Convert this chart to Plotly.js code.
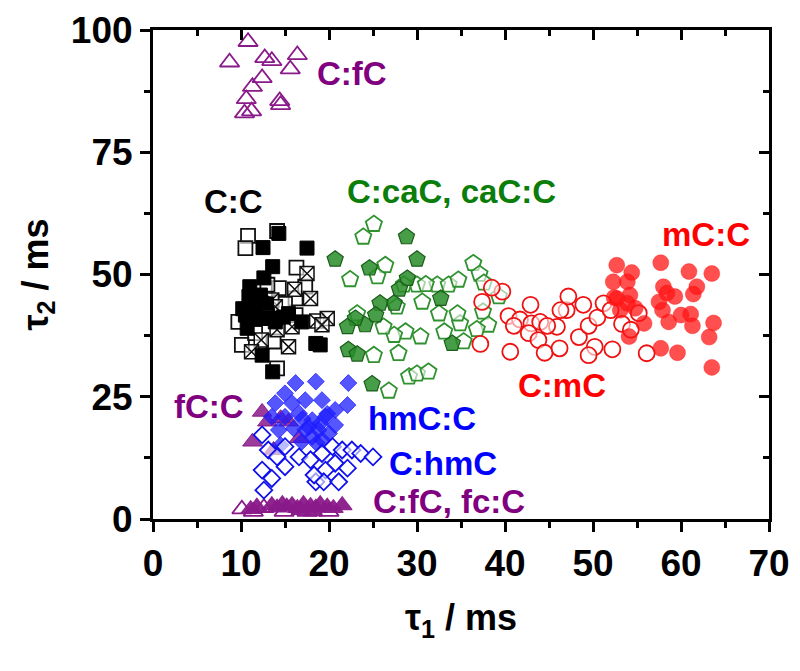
<!DOCTYPE html>
<html>
<head>
<meta charset="utf-8">
<script src="https://cdn.plot.ly/plotly-3.0.1.min.js"></script>
<style>html,body{margin:0;padding:0;background:#fff;}#chart{width:800px;height:671px;}</style>
</head>
<body>
<div id="chart"></div>
<script>
// ---- data (tau1, tau2 in ms) ----
const cfcTopX = [10.8, 8.7, 12.7, 13.5, 16.4, 15.6, 12.4, 11.3, 10.6, 11.2, 10.4, 14.5, 14.4];
const cfcTopY = [97.6, 93.4, 94.3, 93.7, 94.9, 92.0, 90.2, 88.4, 85.9, 83.4, 83.0, 84.7, 85.5];

const ccFilledX = [14.3, 12.5, 17.5, 13.6, 12.6, 10.9, 12.2, 10.5, 11.8, 13.3, 10.7, 15.4, 16.9, 18.5, 19.0, 12.4, 13.6, 13.9, 11.5, 12.9, 10.2, 14.8, 11.0];
const ccFilledY = [58.4, 55.5, 55.4, 51.6, 49.3, 45.5, 45.8, 41.7, 41.0, 41.0, 39.0, 42.0, 40.3, 35.9, 35.6, 33.5, 30.1, 40.3, 43.5, 44.0, 43.0, 41.3, 47.5];
const ccCrossX = [17.5, 16.1, 17.9, 13.5, 15.8, 18.6, 19.8, 19.2, 12.3, 11.2, 15.4, 14.1, 13.9, 13.0];
const ccCrossY = [50.2, 47.0, 45.1, 44.8, 39.3, 40.5, 41.0, 39.7, 36.6, 34.2, 35.2, 38.7, 43.4, 41.5];
const ccOpenX = [10.8, 10.5, 16.3, 14.1, 16.2, 14.3, 13.7, 10.1, 14.1, 9.7, 17.3, 16.2, 13.0, 11.6, 15.0];
const ccOpenY = [57.9, 55.4, 51.4, 58.9, 45.1, 47.2, 36.3, 35.6, 30.8, 40.3, 47.5, 41.7, 47.9, 38.0, 44.0];

const cacFilledX = [28.8, 20.7, 24.6, 30.0, 28.9, 28.0, 27.4, 25.8, 25.3, 24.1, 23.0, 22.1, 32.7, 34.0, 22.2, 23.2, 24.9];
const cacFilledY = [57.7, 53.1, 51.3, 53.1, 49.2, 47.0, 44.1, 44.1, 41.7, 39.7, 41.0, 39.3, 45.1, 35.9, 34.6, 33.7, 27.6];
const cacOpenX = [25.1, 23.9, 22.4, 26.4, 25.5, 30.6, 27.7, 30.0, 32.3, 33.6, 34.7, 36.4, 37.1, 37.6, 39.3, 37.5, 38.1, 36.8, 34.9, 32.5, 33.1, 34.6, 35.3, 30.4, 28.7, 27.4, 26.2, 25.1, 27.9, 23.2, 29.1, 30.0, 31.3, 26.8, 31.0, 28.5];
const cacOpenY = [60.3, 57.7, 49.0, 51.9, 49.6, 44.4, 43.4, 47.9, 47.9, 47.9, 48.9, 52.3, 50.1, 48.3, 45.5, 42.4, 39.7, 38.8, 40.0, 42.0, 38.3, 42.0, 36.3, 37.3, 38.3, 37.6, 39.3, 33.5, 33.9, 42.0, 29.1, 29.7, 30.1, 26.2, 48.0, 47.9];

const cmcOpenX = [39.7, 37.2, 40.4, 41.7, 42.9, 43.0, 41.0, 42.7, 43.8, 40.6, 44.5, 44.0, 45.9, 46.2, 47.0, 47.2, 48.4, 48.9, 49.5, 50.2, 50.5, 51.2, 52.2, 53.3, 55.2, 56.1, 52.0, 46.3, 44.8, 49.5, 54.3, 38.5, 37.4];
const cmcOpenY = [46.5, 35.8, 41.5, 40.8, 43.8, 40.0, 39.5, 38.0, 36.6, 34.2, 34.0, 40.3, 39.3, 34.9, 42.7, 45.5, 37.2, 43.8, 39.5, 35.2, 41.2, 44.1, 34.7, 39.9, 42.1, 33.9, 42.7, 42.7, 39.5, 33.5, 38.7, 47.3, 44.4];
const mccFilledX = [52.7, 54.4, 52.3, 53.9, 52.7, 54.2, 53.9, 53.1, 55.8, 54.1, 57.7, 60.9, 63.5, 58.0, 58.4, 61.8, 61.4, 59.3, 57.5, 57.9, 60.0, 61.1, 58.6, 61.3, 63.7, 63.2, 57.7, 59.6, 63.5, 52.4, 54.8];
const mccFilledY = [51.9, 50.4, 48.5, 48.5, 45.1, 45.8, 44.1, 42.7, 40.0, 37.3, 52.4, 50.6, 50.2, 47.5, 46.2, 47.5, 46.0, 45.5, 44.4, 42.7, 41.7, 41.9, 40.3, 39.5, 40.1, 37.2, 34.9, 34.0, 31.0, 45.3, 43.1];

const hmccFilledX = [16.2, 18.5, 22.2, 15.0, 13.9, 15.8, 17.3, 19.2, 22.1, 20.7, 13.5, 15.0, 16.6, 18.1, 19.6, 20.7, 18.8, 17.3, 16.0, 14.3, 18.1, 19.2, 16.9, 14.5, 20.0, 17.7, 18.6, 19.0, 17.0, 19.8];
const hmccFilledY = [27.8, 28.1, 27.8, 25.7, 23.7, 23.7, 24.3, 24.3, 23.3, 22.3, 20.9, 20.9, 21.6, 20.2, 20.9, 19.2, 18.2, 18.2, 18.5, 18.2, 16.8, 16.2, 15.8, 15.1, 17.5, 18.8, 15.5, 19.5, 20.5, 21.5];
const chmcOpenX = [12.4, 13.1, 14.1, 12.4, 15.0, 16.6, 17.9, 19.2, 20.4, 21.5, 22.6, 23.6, 20.7, 22.1, 19.6, 18.5, 19.4, 21.1, 13.5, 12.6, 15.0, 25.0, 18.3];
const chmcOpenY = [17.2, 14.1, 12.7, 10.0, 10.7, 12.7, 12.1, 13.4, 14.8, 14.1, 14.1, 13.4, 11.4, 10.4, 10.0, 7.6, 7.6, 7.6, 8.3, 5.9, 14.8, 12.7, 9.0];

const fccFilledX = [12.4, 14.5, 15.4, 11.3, 13.7, 16.6, 13.0];
const fccFilledY = [21.9, 20.6, 19.9, 15.8, 14.1, 16.5, 19.9];

const lowFilledX = [11.1, 11.8, 13.5, 14.1, 14.7, 15.2, 15.8, 16.4, 17.1, 17.9, 18.5, 19.0, 19.8, 20.5, 21.5, 16.8, 18.2];
const lowFilledY = [2.0, 2.5, 2.8, 2.3, 3.0, 2.5, 2.8, 2.2, 3.0, 2.6, 2.3, 3.0, 2.5, 2.2, 2.8, 1.8, 1.5];
const lowOpenX = [10.1, 12.6, 11.4, 14.9, 17.5, 20.0];
const lowOpenY = [2.0, 2.3, 1.5, 1.5, 1.5, 1.5];

const labelText = ["C:fC", "C:C", "C:caC, caC:C", "mC:C", "C:mC", "fC:C", "hmC:C", "C:hmC", "C:fC, fc:C"];
const labelX = [22.6, 9.2, 33.9, 62.8, 46.5, 6.4, 30.6, 32.9, 33.6];
const labelY = [91.2, 64.9, 66.9, 58.1, 27.4, 23.0, 20.6, 11.4, 3.5];
const labelColor = ["#800080", "#000000", "#0a7d0a", "#ff0000", "#ff0000", "#800080", "#0000ff", "#0000ff", "#800080"];

const xTicks = [0, 10, 20, 30, 40, 50, 60, 70];
const yTicks = [0, 25, 50, 75, 100];

// ---- styles ----
const PURPLE = "#8a1a8a";
const FONT = "Liberation Sans, Arial, sans-serif";

function sc(x, y, symbol, size, color, lineColor, lineWidth, opacity) {
  return {
    type: "scatter", mode: "markers", x: x, y: y, showlegend: false, hoverinfo: "skip",
    marker: { symbol: symbol, size: size, color: color, opacity: opacity === undefined ? 1 : opacity,
              line: { color: lineColor, width: lineWidth } }
  };
}

const traces = [
  sc(lowFilledX, lowFilledY, "triangle-up", 17, PURPLE, PURPLE, 1.2, 0.95),
  sc(lowOpenX, lowOpenY, "triangle-up-open", 17, PURPLE, PURPLE, 1.8),
  sc(fccFilledX, fccFilledY, "triangle-up", 17, "rgba(138,26,138,0.85)", PURPLE, 1),
  sc(hmccFilledX, hmccFilledY, "diamond", 13, "rgba(30,30,255,0.75)", "rgba(30,30,255,0.75)", 1),
  sc(chmcOpenX, chmcOpenY, "diamond", 13, "rgba(255,255,255,0.6)", "#1010ee", 1.8),
  sc(cfcTopX, cfcTopY, "triangle-up-open", 17, PURPLE, PURPLE, 1.8),
  sc(ccOpenX, ccOpenY, "square", 14, "rgba(255,255,255,0.6)", "#111", 1.8),
  sc(ccCrossX, ccCrossY, "square-x", 14, "rgba(255,255,255,0.6)", "#111", 1.5),
  sc(ccFilledX, ccFilledY, "square", 14, "#000", "#000", 1),
  sc(cacOpenX, cacOpenY, "pentagon", 17, "rgba(255,255,255,0.6)", "#2f922f", 1.8),
  sc(cacFilledX, cacFilledY, "pentagon", 17, "rgba(40,140,40,0.85)", "#1a5e1a", 1.2),
  sc(cmcOpenX, cmcOpenY, "circle", 16, "rgba(255,255,255,0.6)", "#ee1111", 1.8),
  sc(mccFilledX, mccFilledY, "circle", 16, "rgba(255,20,20,0.75)", "rgba(255,20,20,0.75)", 0.5),
  { type: "scatter", mode: "markers", x: [], y: [], xaxis: "x2", yaxis: "y2", showlegend: false, hoverinfo: "skip" }
];

const annotations = labelText.map((t, i) => ({
  x: labelX[i], y: labelY[i], xref: "x", yref: "y", text: t, showarrow: false,
  xanchor: "center", yanchor: "middle",
  font: { family: FONT, size: 33, color: labelColor[i], weight: "bold" }
}));

const axisBase = {
  showgrid: false, zeroline: false, showline: true, linecolor: "#000", linewidth: 3,
  tickcolor: "#000", tickwidth: 3, ticklen: 10
};

const layout = {
  width: 800, height: 671, autosize: false,
  margin: { l: 153, r: 31, t: 30, b: 152, pad: 0 },
  paper_bgcolor: "#fff", plot_bgcolor: "#fff",
  font: { family: FONT, color: "#000" },
  xaxis: Object.assign({}, axisBase, {
    range: [0, 70], tickmode: "array", tickvals: xTicks, ticktext: xTicks.map(String), ticks: "outside",
    minor: { dtick: 5, tick0: 0, ticks: "outside", ticklen: 6, tickwidth: 3, tickcolor: "#000" },
    tickfont: { family: FONT, size: 37, color: "#000", weight: "bold" },
    title: { text: "τ<sub>1</sub> / ms", font: { family: FONT, size: 36, color: "#000", weight: "bold" }, standoff: 22 }
  }),
  yaxis: Object.assign({}, axisBase, {
    range: [0, 100], tickmode: "array", tickvals: yTicks, ticktext: yTicks.map(String), ticks: "outside",
    minor: { dtick: 12.5, tick0: 0, ticks: "outside", ticklen: 6, tickwidth: 3, tickcolor: "#000" },
    tickfont: { family: FONT, size: 37, color: "#000", weight: "bold" },
    title: { text: "τ<sub>2</sub> / ms", font: { family: FONT, size: 36, color: "#000", weight: "bold" }, standoff: 12 }
  }),
  xaxis2: Object.assign({}, axisBase, {
    overlaying: "x", side: "top", anchor: "y2", range: [0, 70], dtick: 10, tick0: 0, ticks: "inside",
    showticklabels: false,
    minor: { dtick: 5, tick0: 0, ticks: "inside", ticklen: 6, tickwidth: 3, tickcolor: "#000" }
  }),
  yaxis2: Object.assign({}, axisBase, {
    overlaying: "y", side: "right", anchor: "x2", range: [0, 100], dtick: 25, tick0: 0, ticks: "inside",
    showticklabels: false,
    minor: { dtick: 12.5, tick0: 0, ticks: "inside", ticklen: 6, tickwidth: 3, tickcolor: "#000" }
  }),
  annotations: annotations
};

Plotly.newPlot("chart", traces, layout, { displayModeBar: false, staticPlot: true });
</script>
</body>
</html>
